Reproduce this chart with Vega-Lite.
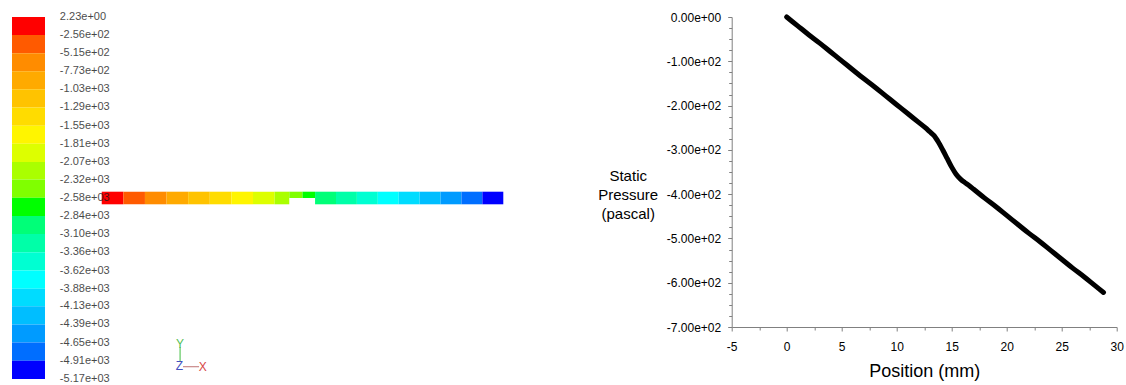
{
  "$schema": "https://vega.github.io/schema/vega-lite/v6.json",
  "background": "white",
  "padding": {"left": 12, "top": 11, "right": 4, "bottom": 0},
  "bounds": "flush",
  "spacing": 227.7,
  "config": {
    "view": {"stroke": null},
    "font": "Liberation Sans"
  },
  "datasets": {
    "levels": [
      {"v": 2.23, "label": "2.23e+00"},
      {"v": -256, "label": "-2.56e+02"},
      {"v": -515, "label": "-5.15e+02"},
      {"v": -773, "label": "-7.73e+02"},
      {"v": -1030, "label": "-1.03e+03"},
      {"v": -1290, "label": "-1.29e+03"},
      {"v": -1550, "label": "-1.55e+03"},
      {"v": -1810, "label": "-1.81e+03"},
      {"v": -2070, "label": "-2.07e+03"},
      {"v": -2320, "label": "-2.32e+03"},
      {"v": -2580, "label": "-2.58e+03"},
      {"v": -2840, "label": "-2.84e+03"},
      {"v": -3100, "label": "-3.10e+03"},
      {"v": -3360, "label": "-3.36e+03"},
      {"v": -3620, "label": "-3.62e+03"},
      {"v": -3880, "label": "-3.88e+03"},
      {"v": -4130, "label": "-4.13e+03"},
      {"v": -4390, "label": "-4.39e+03"},
      {"v": -4650, "label": "-4.65e+03"},
      {"v": -4910, "label": "-4.91e+03"},
      {"v": -5170, "label": "-5.17e+03"}
    ],
    "cells": [
      {"x0": 0, "x1": 1.55, "y0": 0, "y1": 0.9, "p": -127},
      {"x0": 1.55, "x1": 3.1, "y0": 0, "y1": 0.9, "p": -386},
      {"x0": 3.1, "x1": 4.65, "y0": 0, "y1": 0.9, "p": -644},
      {"x0": 4.65, "x1": 6.2, "y0": 0, "y1": 0.9, "p": -903},
      {"x0": 6.2, "x1": 7.75, "y0": 0, "y1": 0.9, "p": -1160},
      {"x0": 7.75, "x1": 9.3, "y0": 0, "y1": 0.9, "p": -1420},
      {"x0": 9.3, "x1": 10.85, "y0": 0, "y1": 0.9, "p": -1680},
      {"x0": 10.85, "x1": 12.4, "y0": 0, "y1": 0.9, "p": -1940},
      {"x0": 12.4, "x1": 13.45, "y0": 0, "y1": 0.9, "p": -2200},
      {"x0": 13.45, "x1": 14.4, "y0": 0.45, "y1": 0.9, "p": -2450},
      {"x0": 14.4, "x1": 15.3, "y0": 0.45, "y1": 0.9, "p": -2710},
      {"x0": 15.3, "x1": 16.8, "y0": 0, "y1": 0.9, "p": -2970},
      {"x0": 16.8, "x1": 18.3, "y0": 0, "y1": 0.9, "p": -3230},
      {"x0": 18.3, "x1": 19.8, "y0": 0, "y1": 0.9, "p": -3490},
      {"x0": 19.8, "x1": 21.3, "y0": 0, "y1": 0.9, "p": -3750},
      {"x0": 21.3, "x1": 22.8, "y0": 0, "y1": 0.9, "p": -4010},
      {"x0": 22.8, "x1": 24.3, "y0": 0, "y1": 0.9, "p": -4260},
      {"x0": 24.3, "x1": 25.8, "y0": 0, "y1": 0.9, "p": -4520},
      {"x0": 25.8, "x1": 27.3, "y0": 0, "y1": 0.9, "p": -4780},
      {"x0": 27.3, "x1": 28.8, "y0": 0, "y1": 0.9, "p": -5040}
    ],
    "profile": [
      {"position": 0, "pressure": 0},
      {"position": 1, "pressure": -20},
      {"position": 2, "pressure": -40},
      {"position": 3, "pressure": -59},
      {"position": 4, "pressure": -79},
      {"position": 5, "pressure": -99},
      {"position": 6, "pressure": -119},
      {"position": 7, "pressure": -139},
      {"position": 8, "pressure": -158},
      {"position": 9, "pressure": -178},
      {"position": 10, "pressure": -198},
      {"position": 11, "pressure": -218},
      {"position": 12, "pressure": -238},
      {"position": 12.6, "pressure": -250},
      {"position": 13.0, "pressure": -259},
      {"position": 13.4, "pressure": -268},
      {"position": 13.8, "pressure": -283},
      {"position": 14.2, "pressure": -301},
      {"position": 14.6, "pressure": -320},
      {"position": 15.0, "pressure": -339},
      {"position": 15.4, "pressure": -355},
      {"position": 15.8, "pressure": -366},
      {"position": 16.2, "pressure": -374},
      {"position": 16.6, "pressure": -381},
      {"position": 17, "pressure": -389},
      {"position": 18, "pressure": -409},
      {"position": 19, "pressure": -428},
      {"position": 20, "pressure": -448},
      {"position": 21, "pressure": -468},
      {"position": 22, "pressure": -488},
      {"position": 23, "pressure": -507},
      {"position": 24, "pressure": -527},
      {"position": 25, "pressure": -547},
      {"position": 26, "pressure": -567},
      {"position": 27, "pressure": -586},
      {"position": 28, "pressure": -606},
      {"position": 28.8, "pressure": -622}
    ]
  },
  "hconcat": [
    {
      "width": 491.3,
      "height": 362,
      "layer": [
        {
          "data": {"name": "levels"},
          "transform": [
            {"window": [{"op": "lead", "field": "v", "as": "v2"}], "sort": [{"field": "v", "order": "descending"}]},
            {"filter": "datum.v2 != null"}
          ],
          "mark": {"type": "rect", "strokeWidth": 0},
          "encoding": {
            "x": {"datum": 0, "type": "quantitative", "scale": {"domain": [0, 14.888], "nice": false, "zero": false}, "axis": null},
            "x2": {"datum": 1},
            "y": {"field": "v", "type": "quantitative", "scale": {"domain": [-5170, 2.23], "nice": false, "zero": false}, "axis": null},
            "y2": {"field": "v2"},
            "color": {
              "field": "v2",
              "type": "quantitative",
              "scale": {
                "type": "threshold",
                "domain": [-4910, -4650, -4390, -4130, -3880, -3620, -3360, -3100, -2840, -2580, -2320, -2070, -1810, -1550, -1290, -1030, -773, -515, -256],
                "range": ["#0000ff", "#006eff", "#009bff", "#00beff", "#00dcff", "#00ffff", "#00ffd2", "#00ffa8", "#00ff78", "#00ff00", "#80ff00", "#aaff00", "#ddff00", "#fff500", "#ffdc00", "#ffc300", "#ffaa00", "#ff8c00", "#ff5a00", "#ff0000"]
              },
              "legend": null
            }
          }
        },
        {
          "layer": [
            {
              "data": {"name": "cells"},
              "mark": {"type": "rect", "strokeWidth": 0},
              "encoding": {
                "x": {"field": "x0", "type": "quantitative", "scale": {"domain": [-6.435, 28.8], "nice": false, "zero": false}, "axis": null},
                "x2": {"field": "x1"},
                "y": {"field": "y0", "type": "quantitative", "scale": {"domain": [-12.48, 13.38], "nice": false, "zero": false}, "axis": null},
                "y2": {"field": "y1"},
                "color": {
                  "field": "p",
                  "type": "quantitative",
                  "scale": {
                    "type": "threshold",
                    "domain": [-4910, -4650, -4390, -4130, -3880, -3620, -3360, -3100, -2840, -2580, -2320, -2070, -1810, -1550, -1290, -1030, -773, -515, -256],
                    "range": ["#0000ff", "#006eff", "#009bff", "#00beff", "#00dcff", "#00ffff", "#00ffd2", "#00ffa8", "#00ff78", "#00ff00", "#80ff00", "#aaff00", "#ddff00", "#fff500", "#ffdc00", "#ffc300", "#ffaa00", "#ff8c00", "#ff5a00", "#ff0000"]
                  },
                  "legend": null
                }
              }
            },
            {
              "data": {"values": [{}]},
              "mark": {"type": "rule", "color": "#5fc85f", "strokeWidth": 1.2},
              "encoding": {
                "x": {"datum": 5.62, "type": "quantitative"},
                "y": {"datum": -10.2, "type": "quantitative"},
                "y2": {"datum": -11.2}
              }
            },
            {
              "data": {"values": [{}]},
              "mark": {"type": "rule", "color": "#c98a8a", "strokeWidth": 1.2},
              "encoding": {
                "x": {"datum": 5.83, "type": "quantitative"},
                "x2": {"datum": 6.98},
                "y": {"datum": -11.6, "type": "quantitative"}
              }
            },
            {
              "data": {"values": [{}]},
              "mark": {"type": "text", "text": "Y", "fontSize": 12, "color": "#55c055", "baseline": "middle", "align": "center"},
              "encoding": {
                "x": {"datum": 5.62, "type": "quantitative"},
                "y": {"datum": -9.95, "type": "quantitative"}
              }
            },
            {
              "data": {"values": [{}]},
              "mark": {"type": "text", "text": "Z", "fontSize": 12, "color": "#4450c0", "baseline": "middle", "align": "center"},
              "encoding": {
                "x": {"datum": 5.57, "type": "quantitative"},
                "y": {"datum": -11.58, "type": "quantitative"}
              }
            },
            {
              "data": {"values": [{}]},
              "mark": {"type": "text", "text": "X", "fontSize": 12, "color": "#d84848", "baseline": "middle", "align": "center"},
              "encoding": {
                "x": {"datum": 7.25, "type": "quantitative"},
                "y": {"datum": -11.6, "type": "quantitative"}
              }
            }
          ]
        },
        {
          "data": {"name": "levels"},
          "mark": {"type": "text", "align": "left", "baseline": "middle", "fontSize": 11, "color": "#1a1a1a", "opacity": 0.8},
          "encoding": {
            "x": {"datum": 1.45, "type": "quantitative", "scale": {"domain": [0, 14.888], "nice": false, "zero": false}, "axis": null},
            "y": {"field": "v", "type": "quantitative", "scale": {"domain": [-5170, 2.23], "nice": false, "zero": false}, "axis": null},
            "text": {"field": "label"}
          }
        }
      ],
      "resolve": {"scale": {"x": "independent", "y": "independent", "color": "independent"}}
    },
    {
      "width": 385,
      "height": 310,
      "data": {"name": "profile"},
      "mark": {"type": "line", "color": "black", "strokeWidth": 5, "strokeCap": "round", "strokeJoin": "round", "interpolate": "monotone"},
      "encoding": {
        "x": {
          "field": "position",
          "type": "quantitative",
          "scale": {"domain": [-5, 30], "nice": false, "zero": false},
          "axis": {
            "values": [-5, -2.5, 0, 2.5, 5, 7.5, 10, 12.5, 15, 17.5, 20, 22.5, 25, 27.5, 30],
            "labelExpr": "datum.value % 5 === 0 ? (datum.value < 0 ? '-' + abs(datum.value) : '' + datum.value) : ''",
            "grid": false,
            "domainColor": "#808080",
            "tickColor": "#808080",
            "tickSize": {"condition": {"test": "datum.value % 5 === 0", "value": 4}, "value": 3},
            "labelPadding": 10,
            "labelFontSize": 12,
            "labelColor": "black",
            "labelFlush": false,
            "labelOverlap": false,
            "title": "Position (mm)",
            "titleFontSize": 18,
            "titleFontWeight": "normal",
            "titleColor": "black",
            "titleBaseline": "middle",
            "titleY": 44
          }
        },
        "y": {
          "field": "pressure",
          "type": "quantitative",
          "scale": {"domain": [-700, 0], "nice": false, "zero": false},
          "axis": {
            "values": [-700, -675, -650, -625, -600, -575, -550, -525, -500, -475, -450, -425, -400, -375, -350, -325, -300, -275, -250, -225, -200, -175, -150, -125, -100, -75, -50, -25, 0],
            "labelExpr": "datum.value === 0 ? '0.00e+00' : (datum.value % 100 === 0 ? '-' + format(abs(datum.value) / 100, '.2f') + 'e+02' : '')",
            "grid": false,
            "domainColor": "#808080",
            "tickColor": "#808080",
            "tickSize": {"condition": {"test": "datum.value % 100 === 0", "value": 4}, "value": 3},
            "labelPadding": 7,
            "labelFontSize": 12,
            "labelColor": "black",
            "labelFlush": false,
            "labelOverlap": false,
            "title": ["Static", "Pressure", "(pascal)"],
            "titleAngle": 0,
            "titleAlign": "center",
            "titleBaseline": "middle",
            "titleFontSize": 15,
            "titleFontWeight": "normal",
            "titleColor": "black",
            "titleLineHeight": 19,
            "titleX": -104,
            "titleY": 158
          }
        }
      }
    }
  ]
}
